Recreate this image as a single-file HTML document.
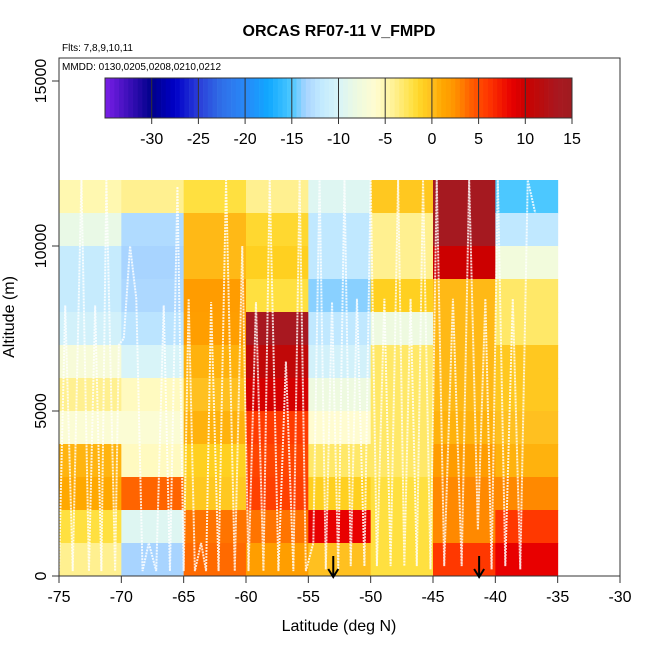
<!DOCTYPE html>
<html><head><meta charset="utf-8"><style>
body{margin:0;background:#fff;font-family:"Liberation Sans",sans-serif}
svg text{font-family:"Liberation Sans",sans-serif}
</style></head><body>
<svg id="chart" width="650" height="650" xmlns="http://www.w3.org/2000/svg">
<rect width="650" height="650" fill="#fff"/>
<g id="cells"></g>
<g id="tracks"></g>
<g id="cbar"></g>
<g id="axes"></g>
<text x="339" y="36" text-anchor="middle" font-size="16" font-weight="bold">ORCAS RF07-11 V_FMPD</text>
<text x="62" y="51" font-size="10">Flts: 7,8,9,10,11</text>
<text x="62" y="70" font-size="10">MMDD: 0130,0205,0208,0210,0212</text>
<text x="339" y="631" text-anchor="middle" font-size="16">Latitude (deg N)</text>
<text transform="translate(14,317) rotate(-90)" text-anchor="middle" font-size="16">Altitude (m)</text>
</svg>
<script>
const latBins=[-75,-70,-65,-60,-55,-50,-45,-40];
const altBins=[11000,10000,9000,8000,7000,6000,5000,4000,3000,2000,1000,0];
const col1=[-5,-8.5,-11.5,-11.5,-10.5,-7,-4,-6.5,0.5,1,-2,-4];
const col2=[-4,-13,-13.5,-13.2,-12.3,-10,-5.5,-6.5,-5.5,4,-9.5,-13.5];
const col3=[-2,0.3,0.3,2,1.8,0.6,0,0.6,-1,-0.5,3.5,3.8];
const col4=[-4,-1.5,-1,-2,13.5,11,9.5,5.8,5.3,5.5,3.5,1.8];
const col5=[-9.5,-12,-12,-14,-12,-10.5,-8,-6,-3,-1,8.5,0];
const col6=[-0.5,-4,-4,-1,-8,-3,-3,-3,-3,-2,-2,-2];
const col7=[14,14,10,0.3,0.3,0.3,0.3,0.6,2,2.8,2.8,6];
const col8=[-15,-12,-7.5,-3,-3,-0.5,-0.5,0,0.6,2.8,6,8.5];
const columns=[col1,col2,col3,col4,col5,col6,col7,col8];
const xTicks=[-75,-70,-65,-60,-55,-50,-45,-40,-35,-30];
const yTicks=[0,5000,10000,15000];
const cbTicks=[-30,-25,-20,-15,-10,-5,0,5,10,15];
const arrowLats=[-53,-41.3];
const trackLat=[-75,-74.5,-73.9,-73.2,-72.6,-72.1,-71.6,-71.2,-70.5,-70.2,-69.8,-69.3,-68.8,-68.3,-67.8,-67.2,-66.6,-66.1,-65.5,-65,-64.6,-64.1,-63.6,-63.2,-62.8,-62.2,-61.6,-60.9,-60.3,-59.8,-59.2,-58.6,-58.1,-57.4,-56.8,-56.2,-55.7,-55.2,-54.6,-54.1,-53.6,-53.1,-52.6,-52.1,-51.6,-51.1,-50.5,-50,-49.5,-48.9,-48.4,-47.8,-47.3,-46.8,-46.3,-45.8,-45.2,-44.7,-44.1,-43.4,-42.7,-42.1,-41.4,-40.8,-40.3,-39.8,-39.2,-38.6,-38,-37.4,-36.8];
const trackAlt=[150,8200,150,12000,150,8200,150,12000,150,7000,7200,10000,8400,150,1000,150,8200,150,11800,150,8400,150,1000,150,8300,150,12000,150,10000,150,8300,150,12000,150,6500,150,12000,150,1000,12000,200,8300,200,12000,300,8400,300,12000,300,8400,300,12000,300,8400,300,12000,200,12000,300,8400,300,12000,1400,8400,200,12000,300,8400,200,12000,11000];
const NS="http://www.w3.org/2000/svg";
const X0=59,X1=620,Y0=576,pxM=165/5000;
const xs=v=>X0+(v+75)*(X1-X0)/45;
const ys=v=>Y0-v*pxM;
const stops=[[-35,"#7a1fe8"],[-30,"#00008b"],[-27.5,"#0000c8"],[-25,"#2a3dd8"],[-22.5,"#3070e8"],[-20,"#2888f8"],[-17.5,"#10a8ff"],[-15,"#4cc8ff"],[-13.5,"#a8d4ff"],[-12,"#c0e8ff"],[-10,"#d8f4f8"],[-8,"#eefae0"],[-6,"#fffcd0"],[-5,"#fff8b0"],[-4,"#fff090"],[-3,"#ffe868"],[-2,"#ffe040"],[-1,"#ffd020"],[0,"#ffc020"],[1,"#ffa800"],[2,"#ff9c00"],[3,"#ff8400"],[4,"#ff6400"],[5.5,"#ff4000"],[6,"#ff3800"],[8.5,"#e80000"],[10,"#cc0000"],[11,"#c00808"],[13.5,"#a81820"],[15,"#a01c20"]];
function hx(h){return [1,3,5].map(i=>parseInt(h.substr(i,2),16));}
function color(v){
  if(v<=stops[0][0])return stops[0][1];
  for(let i=1;i<stops.length;i++){if(v<=stops[i][0]){const a=hx(stops[i-1][1]),b=hx(stops[i][1]),t=(v-stops[i-1][0])/(stops[i][0]-stops[i-1][0]);return "rgb("+a.map((c,k)=>Math.round(c+(b[k]-c)*t)).join(",")+")";}}
  return stops[stops.length-1][1];
}
function mk(tag,attrs,parent){const e=document.createElementNS(NS,tag);for(const k in attrs)e.setAttribute(k,attrs[k]);parent.appendChild(e);return e;}
const cells=document.getElementById('cells');
columns.forEach((col,ci)=>{col.forEach((v,ri)=>{
  const r=mk('rect',{x:xs(latBins[ci]),y:ys(altBins[ri]+1000),width:xs(latBins[ci]+5)-xs(latBins[ci])+0.5,height:ys(altBins[ri])-ys(altBins[ri]+1000)+0.5,fill:color(v)},cells);
  
  
});});
const tr=document.getElementById('tracks');
const pl=mk('polyline',{points:trackLat.map((l,i)=>xs(l)+","+ys(trackAlt[i])).join(" "),fill:"none",stroke:"#fff",'stroke-width':2,'stroke-dasharray':"2 1",opacity:0.85},tr);


const ax=document.getElementById('axes');
const box=mk('rect',{x:X0,y:58,width:X1-X0,height:Y0-58,fill:"none",stroke:"#333",'stroke-width':1},ax);


xTicks.forEach(t=>{
  const l=mk('line',{x1:xs(t),x2:xs(t),y1:Y0,y2:Y0+7,stroke:"#333"},ax);
  
  
  const tx=mk('text',{x:xs(t),y:Y0+26,'text-anchor':'middle','font-size':16},ax);tx.textContent=t;
  
  
});
yTicks.forEach(t=>{
  const l=mk('line',{x1:X0-7,x2:X0,y1:ys(t),y2:ys(t),stroke:"#333"},ax);
  
  
  const tx=mk('text',{transform:`translate(${X0-13},${ys(t)}) rotate(-90)`,'text-anchor':'middle','font-size':16},ax);tx.textContent=t;
  
  
});
arrowLats.forEach(a=>{
  const g=mk('g',{stroke:"#000",'stroke-width':2,fill:"none"},ax);
  
  
  mk('line',{x1:xs(a),x2:xs(a),y1:556,y2:577},g);
  mk('polyline',{points:`${xs(a)-5},569 ${xs(a)},577 ${xs(a)+5},569`},g);
});
const cb=document.getElementById('cbar');
const CB0=105,CB1=572,cbs=v=>CB0+(v+35)*(CB1-CB0)/50;
for(let v=-35;v<15;v+=0.5){mk('rect',{x:cbs(v),y:78,width:cbs(v+0.5)-cbs(v)+0.3,height:40,fill:color(v+0.25)},cb);}
mk('rect',{x:CB0,y:78,width:CB1-CB0,height:40,fill:"none",stroke:"#333"},cb);
cbTicks.forEach(t=>{
  mk('line',{x1:cbs(t),x2:cbs(t),y1:78,y2:124,stroke:"#333"},cb);
  const tx=mk('text',{x:cbs(t),y:144,'text-anchor':'middle','font-size':16},cb);tx.textContent=t;
  
  
});
</script>
</body></html>
